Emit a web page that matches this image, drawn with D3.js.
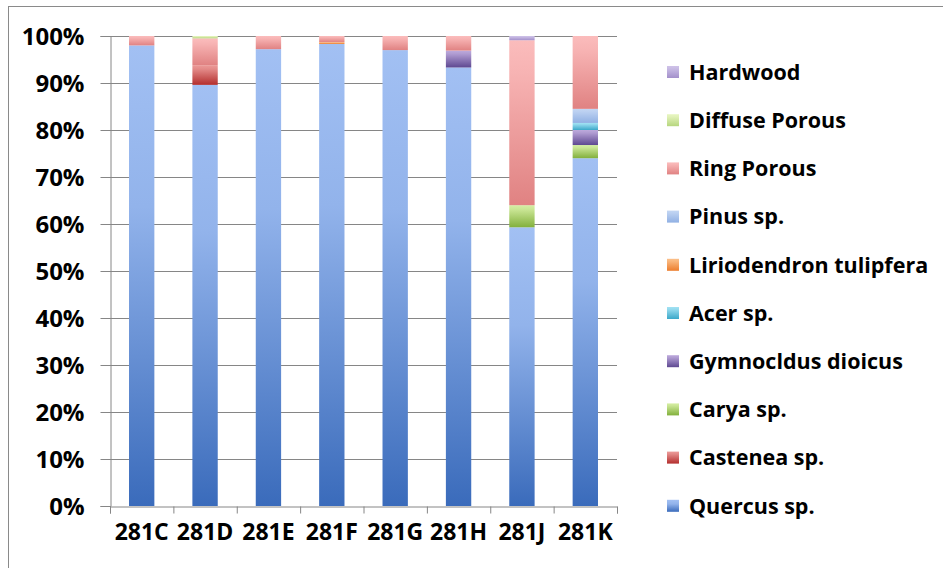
<!DOCTYPE html>
<html>
<head>
<meta charset="utf-8">
<script src="https://cdn.jsdelivr.net/npm/d3@7"></script>
<style>
  body { margin: 0; background: #fff; }
  text { font-family: 'Open Sans', Lato, sans-serif; font-weight: 700; fill: #000; }
</style>
</head>
<body>
<div id="chart"></div>
<script>
// samples along the x axis
const samples = ['281C', '281D', '281E', '281F', '281G', '281H', '281J', '281K']

// stack order, bottom to top
const species = [
  'Quercus sp.',
  'Castenea sp.',
  'Carya sp.',
  'Gymnocldus dioicus',
  'Acer sp.',
  'Liriodendron tulipfera',
  'Pinus sp.',
  'Ring Porous',
  'Diffuse Porous',
  'Hardwood'
]

// percent per sample, one array per species
const quercus = [98.0, 89.6, 97.2, 98.3, 97.0, 93.3, 59.3, 74.0]
const castenea = [0, 4.2, 0, 0, 0, 0, 0, 0]
const carya = [0, 0, 0, 0, 0, 0, 4.7, 2.8]
const gymnocldus = [0, 0, 0, 0, 0, 3.6, 0, 3.2]
const acer = [0, 0, 0, 0, 0, 0, 0, 1.5]
const liriodendron = [0, 0, 0, 0.4, 0, 0, 0, 0]
const pinus = [0, 0, 0, 0, 0, 0, 0, 3.0]
const ringPorous = [2.0, 5.7, 2.8, 1.3, 3.0, 3.1, 35.1, 15.5]
const diffusePorous = [0, 0.5, 0, 0, 0, 0, 0, 0]
const hardwood = [0, 0, 0, 0, 0, 0, 0.9, 0]

const yTicks = [0, 10, 20, 30, 40, 50, 60, 70, 80, 90, 100]

const seriesValues = [quercus, castenea, carya, gymnocldus, acer, liriodendron,
  pinus, ringPorous, diffusePorous, hardwood]

// top / bottom colours of each bar segment
const shades = [
  ['#a2c0f3', '#3a6bbb'],
  ['#ec9a98', '#b32e2d'],
  ['#d6eea4', '#82b03c'],
  ['#bdaadc', '#5e4891'],
  ['#a2e2f3', '#3ba8c9'],
  ['#fbc08a', '#ec7d2d'],
  ['#c3d6f3', '#90b0e3'],
  ['#fbbcbc', '#e08282'],
  ['#e8f6c2', '#b6d67e'],
  ['#cfc2e8', '#a390cb']
]

const margin = { top: 36, left: 110, right: 326, bottom: 62 }
const width = 943 - margin.left - margin.right
const height = 568 - margin.top - margin.bottom

const root = d3
  .select('#chart')
  .append('svg')
  .attr('width', 943)
  .attr('height', 568)

// outer chart border (runs off the picture right and bottom)
root
  .append('rect')
  .attr('x', 8.5)
  .attr('y', 6.5)
  .attr('width', 960)
  .attr('height', 600)
  .attr('fill', 'none')
  .attr('stroke', '#8a8a8a')

const defs = root.append('defs')
species.forEach((s, i) => {
  const g = defs
    .append('linearGradient')
    .attr('id', 'grad' + i)
    .attr('x1', 0)
    .attr('y1', 0)
    .attr('x2', 0)
    .attr('y2', 1)
  g.append('stop').attr('offset', '0%').attr('stop-color', shades[i][0])
  g.append('stop').attr('offset', i === 0 ? '35%' : '20%').attr('stop-color', d3.interpolateRgb(shades[i][0], shades[i][1])(0.15))
  g.append('stop').attr('offset', '100%').attr('stop-color', shades[i][1])
})

const svg = root
  .append('g')
  .attr('transform', 'translate(' + margin.left + ',' + margin.top + ')')

const xPositionScale = d3
  .scaleBand()
  .domain(samples)
  .range([0, width])
  .paddingInner(0.6)
  .paddingOuter(0.3)

const yPositionScale = d3
  .scaleLinear()
  .domain([0, 100])
  .range([height, 0])

// gridlines
svg
  .selectAll('.grid')
  .data(yTicks.slice(1))
  .enter()
  .append('line')
  .attr('class', 'grid')
  .attr('x1', 0)
  .attr('x2', width)
  .attr('y1', d => Math.round(yPositionScale(d)) + 0.5)
  .attr('y2', d => Math.round(yPositionScale(d)) + 0.5)
  .attr('stroke', '#868686')

const rows = samples.map((s, j) => {
  const row = { sample: s }
  species.forEach((sp, i) => { row[sp] = seriesValues[i][j] })
  return row
})

const stacked = d3.stack().keys(species)(rows)

svg
  .selectAll('.series')
  .data(stacked)
  .enter()
  .append('g')
  .attr('class', 'series')
  .attr('fill', (d, i) => 'url(#grad' + i + ')')
  .selectAll('rect')
  .data(d => d.filter(v => v[1] - v[0] > 0))
  .enter()
  .append('rect')
  .attr('x', d => xPositionScale(d.data.sample))
  .attr('width', xPositionScale.bandwidth())
  .attr('y', d => yPositionScale(d[1]))
  .attr('height', d => yPositionScale(d[0]) - yPositionScale(d[1]))

// y axis
const yAxis = d3
  .axisLeft(yPositionScale)
  .tickValues(yTicks)
  .tickSize(10)
  .tickPadding(16)
  .tickFormat(d => d + '%')
svg
  .append('g')
  .attr('class', 'axis y-axis')
  .attr('transform', 'translate(0.5,0)')
  .call(yAxis)
  .call(g => g.selectAll('line, path').attr('stroke', '#868686'))
  .call(g => g.selectAll('.tick text').attr('font-size', 24).attr('font-family', null).attr('dy', '0.36em'))

// x axis: tick marks between the categories
const xEdges = d3.scaleLinear().domain([0, samples.length]).range([0, width])
svg
  .append('g')
  .attr('class', 'axis x-ticks')
  .attr('transform', 'translate(0,' + (height + 0.5) + ')')
  .call(d3.axisBottom(xEdges).ticks(samples.length).tickSizeOuter(0).tickSize(7).tickFormat(''))
  .call(g => g.selectAll('line, path').attr('stroke', '#868686'))

svg
  .append('g')
  .attr('class', 'axis x-axis')
  .attr('transform', 'translate(0,' + height + ')')
  .call(d3.axisBottom(xPositionScale).tickSize(0).tickPadding(18))
  .call(g => g.select('.domain').remove())
  .call(g => g.selectAll('.tick text').attr('font-size', 23).attr('font-family', null))

// legend, reversed so the top series comes first
const legendItems = species.slice().reverse()
const legend = root
  .append('g')
  .attr('transform', 'translate(667,72)')

const legendRow = legend
  .selectAll('.legend-row')
  .data(legendItems)
  .enter()
  .append('g')
  .attr('class', 'legend-row')
  .attr('transform', (d, i) => 'translate(0,' + i * 48.2 + ')')

legendRow
  .append('rect')
  .attr('x', 0)
  .attr('y', -6)
  .attr('width', 12)
  .attr('height', 12)
  .attr('fill', d => 'url(#grad' + species.indexOf(d) + ')')

legendRow
  .append('text')
  .attr('x', 22)
  .attr('dy', '0.36em')
  .attr('font-size', 21.5)
  .text(d => d)
</script>
</body>
</html>
